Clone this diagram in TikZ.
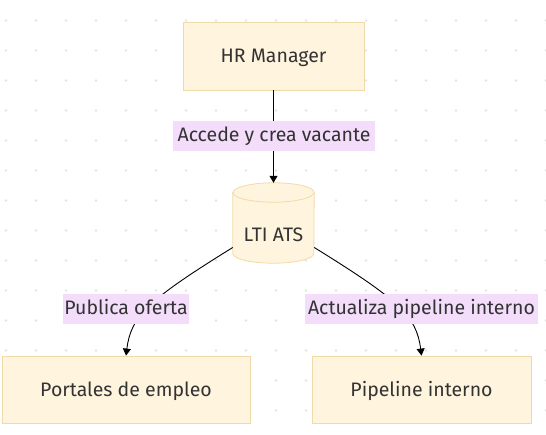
\documentclass[tikz,border=0pt]{standalone}
\usepackage{fontspec}
\setmainfont{Fira Sans}
\usetikzlibrary{arrows.meta}
\definecolor{boxfill}{HTML}{FFF4DD}
\definecolor{boxline}{HTML}{F0DBA8}
\definecolor{lblfill}{HTML}{F3DDFB}
\definecolor{txt}{HTML}{333333}
\definecolor{dotc}{HTML}{E4E4E4}
\tikzset{
  procbox/.style={draw=boxline, fill=boxfill, line width=0.8pt, text=txt, inner sep=0pt, text height=16.4pt, text depth=3pt, font=\fontsize{19.5}{22}\selectfont},
  elabel/.style={fill=lblfill, text=txt, inner sep=0pt, minimum height=30pt, text height=13pt, text depth=3pt, font=\fontsize{19.5}{22}\selectfont},
  conn/.style={draw=black, line width=0.9pt, -{Triangle[length=7pt,width=8pt]}},
}
\begin{document}
\begin{tikzpicture}[x=1pt,y=-1pt]
\useasboundingbox (0,0) rectangle (546,435);
\fill[white] (0,0) rectangle (546,435);
% dot grid
\foreach \i in {0,...,18} {
  \foreach \j in {0,...,13} {
    \fill[dotc] (6+30*\i, 20.5+30*\j) circle (1.3);
  }
}
% nodes
\node[procbox, minimum width=181pt, minimum height=68pt] (hr) at (273.5,56) {HR Manager};
\node[minimum width=81pt, minimum height=80pt, inner sep=0pt] (ats) at (273.5,223) {};
\node[procbox, minimum width=248pt, minimum height=67pt] (portales) at (126,389.5) {Portales de empleo};
\node[procbox, minimum width=219pt, minimum height=67pt] (pipe) at (421.5,389.5) {Pipeline interno};
% cylinder
\draw[draw=boxline, fill=boxfill, line width=0.8pt]
  ([yshift=-9.7pt]ats.north west) -- ([yshift=9.7pt]ats.south west)
  arc[start angle=180, end angle=0, x radius=40.5, y radius=9.7]
  -- ([yshift=-9.7pt]ats.north east)
  arc[start angle=0, end angle=-180, x radius=40.5, y radius=9.7] -- cycle;
\draw[draw=boxline, line width=0.8pt] ([yshift=-9.7pt]ats.north west)
  arc[start angle=180, end angle=0, x radius=40.5, y radius=9.7];
\node[text=txt, font=\fontsize{19.5}{22}\selectfont] (atstext) at (273.5,235) {LTI ATS};
% edges
\draw[conn] (hr.south) -- (ats.north);
\draw[conn] (ats.211) .. controls (148,300) and (131,316) .. (portales.north);
\draw[conn] (ats.329) .. controls (399,300) and (416.5,316) .. (pipe.north);
% labels
\node[elabel, minimum width=202pt] (l1) at (274,136.5) {Accede y crea vacante};
\node[elabel, minimum width=126pt] (l2) at (126,309.5) {Publica oferta};
\node[elabel, minimum width=233pt] (l3) at (421.5,309.5) {Actualiza pipeline interno};
\end{tikzpicture}
\end{document}
